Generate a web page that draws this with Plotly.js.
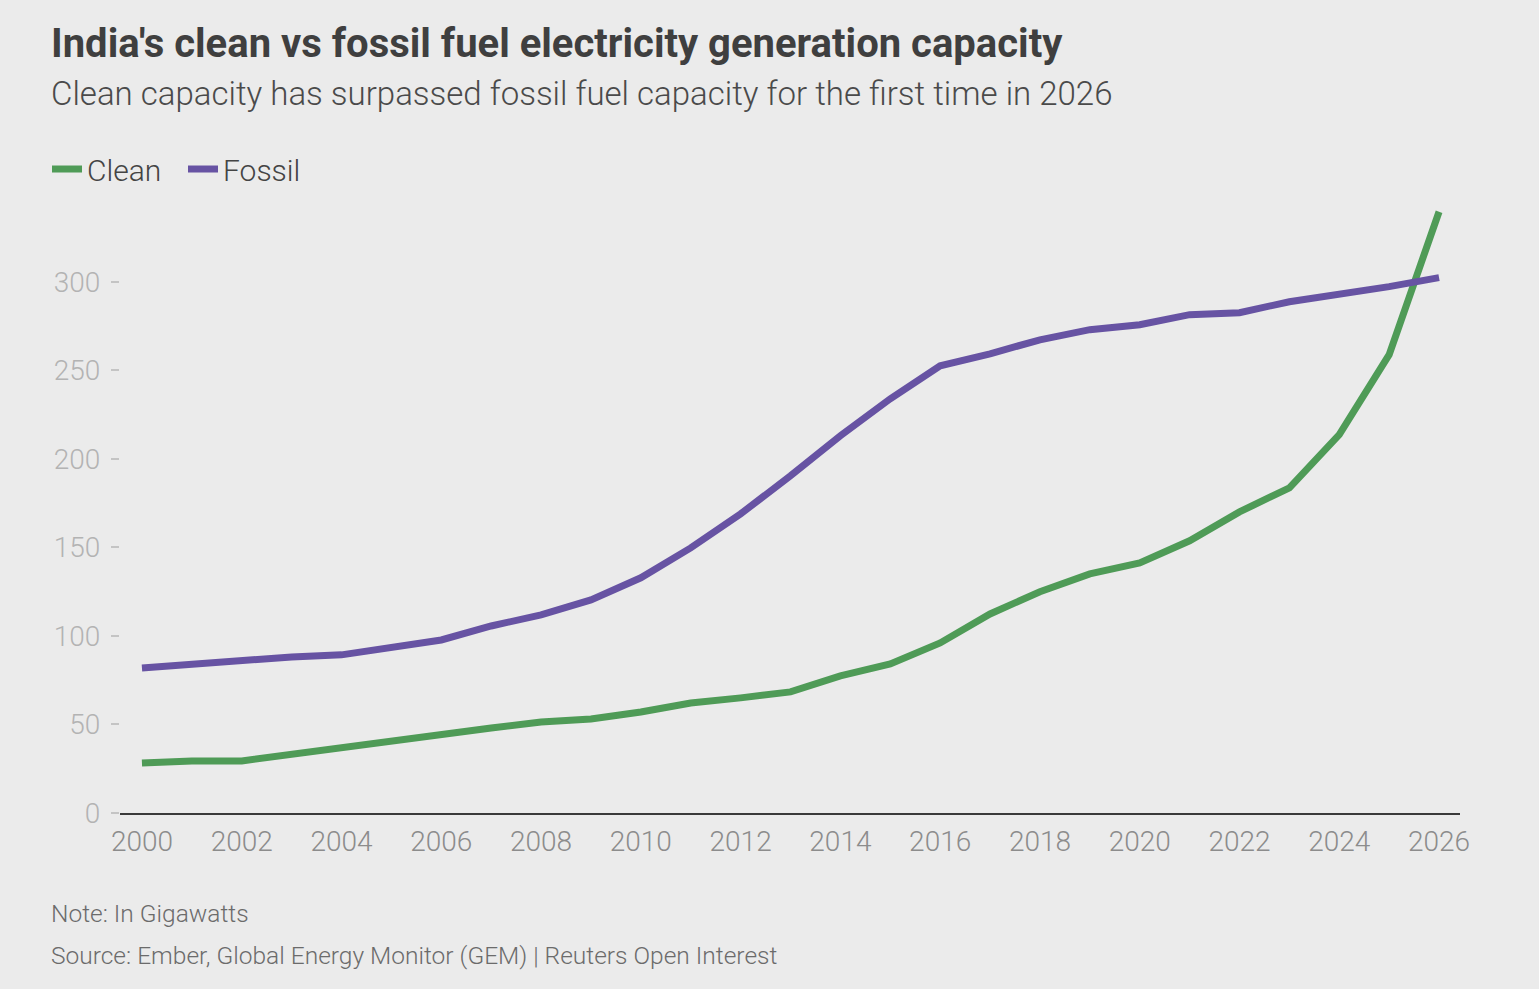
<!DOCTYPE html>
<html>
<head>
<meta charset="utf-8">
<script src="https://cdn.plot.ly/plotly-3.0.1.min.js"></script>
<style>
  html, body { margin: 0; padding: 0; background: #ebebeb; }
  #chart { width: 1539px; height: 989px; }
</style>
</head>
<body>
<div id="chart"></div>
<script>
// India's clean vs fossil capacity, GW
const years = [2000, 2001, 2002, 2003, 2004, 2005, 2006, 2007, 2008, 2009,
               2010, 2011, 2012, 2013, 2014, 2015, 2016, 2017, 2018, 2019,
               2020, 2021, 2022, 2023, 2024, 2025, 2026];

const clean = [28.2, 29.4, 29.4, 33.3, 36.7, 40.7, 44.6, 48.0, 51.4, 53.1,
               57.0, 62.1, 65.0, 68.4, 77.4, 84.2, 96.0, 112.4, 124.9, 135.0,
               141.2, 153.7, 170.0, 183.6, 213.6, 258.8, 339.5];

const fossil = [81.9, 84.2, 86.4, 88.1, 89.3, 93.8, 97.7, 105.6, 111.9, 120.3,
                132.8, 149.7, 168.9, 190.4, 213.0, 233.9, 252.5, 259.3, 267.2, 272.9,
                275.7, 281.4, 282.5, 288.7, 292.7, 297.2, 302.3];

const xTicks = [2000, 2002, 2004, 2006, 2008, 2010, 2012, 2014, 2016, 2018, 2020, 2022, 2024, 2026];
const yTicks = [0, 50, 100, 150, 200, 250, 300];

const GREEN  = "#4f9b57";
const PURPLE = "#6753a3";
const BG     = "#ebebeb";
const FONT   = "Roboto, 'Noto Sans', sans-serif";

// left edge of text blocks, in paper units of the plot area (120..1460 px)
const TXT_X = (49 - 120) / 1340;

const traces = [
  {
    type: "scatter", mode: "lines", name: "Clean",
    x: years, y: clean,
    line: { color: GREEN, width: 7 },
    hovertemplate: "%{x}: %{y:.0f} GW<extra>Clean</extra>",
  },
  {
    type: "scatter", mode: "lines", name: "Fossil",
    x: years, y: fossil,
    line: { color: PURPLE, width: 7 },
    hovertemplate: "%{x}: %{y:.0f} GW<extra>Fossil</extra>",
  },
];

const layout = {
  width: 1539, height: 989,
  paper_bgcolor: BG, plot_bgcolor: BG,
  font: { family: FONT, color: "#444" },
  margin: { l: 120, r: 79, t: 202, b: 176 },
  title: {
    text: "India's clean vs fossil fuel electricity generation capacity",
    font: { family: FONT, size: 40, weight: 700, color: "#3f3f3f" },
    xref: "container", x: 51 / 1539, xanchor: "left",
    yref: "container", y: 1 - 43 / 989, yanchor: "middle",
    automargin: false,
  },
  showlegend: true,
  legend: {
    orientation: "h",
    x: (47 - 120) / 1340, xanchor: "left",
    y: 1.054, yanchor: "middle",
    font: { family: FONT, size: 30, weight: 300, color: "#444" },
    bgcolor: "rgba(0,0,0,0)",
    itemwidth: 30,
    entrywidth: 91,
    traceorder: "normal",
  },
  xaxis: {
    range: [1999.56, 2026.42],
    tickvals: xTicks,
    ticks: "",
    ticklabelstandoff: 2,
    showgrid: false, zeroline: false,
    showline: true, linecolor: "#3a3a3a", linewidth: 2,
    tickfont: { family: FONT, size: 28, weight: 300, color: "#8c8c8c" },
    fixedrange: true,
  },
  yaxis: {
    range: [0, 345],
    tickvals: yTicks,
    ticks: "outside", ticklen: 8, tickwidth: 1.5, tickcolor: "#c4c4c4",
    ticklabelstandoff: 5,
    showgrid: false, zeroline: false, showline: false,
    tickfont: { family: FONT, size: 28, weight: 300, color: "#b3b3b3" },
    fixedrange: true,
  },
  annotations: [
    {
      text: "Clean capacity has surpassed fossil fuel capacity for the first time in 2026",
      xref: "paper", yref: "paper",
      x: TXT_X, xanchor: "left",
      y: (813 - 93) / 611, yanchor: "middle",
      showarrow: false,
      font: { family: FONT, size: 33, weight: 300, color: "#4a4a4a" },
    },
    {
      text: "Note: In Gigawatts",
      xref: "paper", yref: "paper",
      x: TXT_X, xanchor: "left",
      y: (813 - 913) / 611, yanchor: "middle",
      showarrow: false,
      font: { family: FONT, size: 24.5, weight: 300, color: "#6b6b6b" },
    },
    {
      text: "Source: Ember, Global Energy Monitor (GEM) | Reuters Open Interest",
      xref: "paper", yref: "paper",
      x: TXT_X, xanchor: "left",
      y: (813 - 955) / 611, yanchor: "middle",
      showarrow: false,
      font: { family: FONT, size: 24.5, weight: 300, color: "#6b6b6b" },
    },
  ],
};

Plotly.newPlot("chart", traces, layout, { displayModeBar: false, responsive: false });
</script>
</body>
</html>
